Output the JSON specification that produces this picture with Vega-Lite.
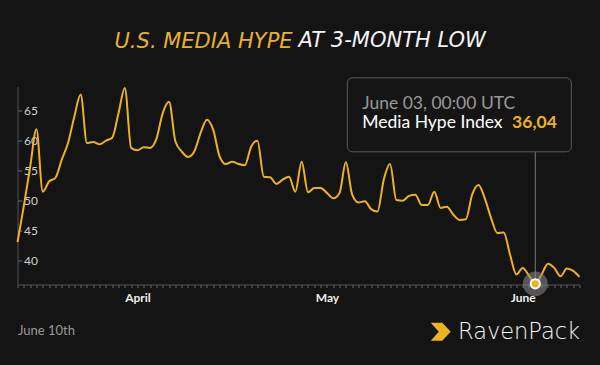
{
  "$schema": "https://vega.github.io/schema/vega-lite/v6.json",
  "autosize": "none",
  "width": 562,
  "height": 198,
  "padding": {"left": 17.5, "top": 86.5, "right": 20.5, "bottom": 80.5},
  "background": "#141414",
  "config": {"view": {"stroke": null}, "axis": {"grid": false}},
  "title": {
    "text": "U.S. MEDIA HYPE",
    "anchor": "start",
    "frame": "group",
    "dx": 97,
    "baseline": "alphabetic",
    "font": "DejaVu Sans",
    "fontSize": 21,
    "fontStyle": "italic",
    "fontWeight": "normal",
    "color": "#e9b12a",
    "offset": -40
  },
  "datasets": {
    "main": [
      {"date": "2020-03-13", "value": 43.0},
      {"date": "2020-03-14", "value": 49.0},
      {"date": "2020-03-15", "value": 55.5},
      {"date": "2020-03-16", "value": 61.8},
      {"date": "2020-03-17", "value": 51.4},
      {"date": "2020-03-18", "value": 53.1},
      {"date": "2020-03-19", "value": 53.7},
      {"date": "2020-03-20", "value": 56.7},
      {"date": "2020-03-21", "value": 59.5},
      {"date": "2020-03-22", "value": 63.9},
      {"date": "2020-03-23", "value": 67.6},
      {"date": "2020-03-24", "value": 59.5},
      {"date": "2020-03-25", "value": 59.7},
      {"date": "2020-03-26", "value": 59.3},
      {"date": "2020-03-27", "value": 59.9},
      {"date": "2020-03-28", "value": 60.4},
      {"date": "2020-03-29", "value": 64.5},
      {"date": "2020-03-30", "value": 68.7},
      {"date": "2020-03-31", "value": 58.7},
      {"date": "2020-04-01", "value": 58.3},
      {"date": "2020-04-02", "value": 58.8},
      {"date": "2020-04-03", "value": 58.7},
      {"date": "2020-04-04", "value": 60.2},
      {"date": "2020-04-05", "value": 64.5},
      {"date": "2020-04-06", "value": 66.4},
      {"date": "2020-04-07", "value": 59.8},
      {"date": "2020-04-08", "value": 58.1},
      {"date": "2020-04-09", "value": 57.2},
      {"date": "2020-04-10", "value": 58.1},
      {"date": "2020-04-11", "value": 61.2},
      {"date": "2020-04-12", "value": 63.4},
      {"date": "2020-04-13", "value": 61.7},
      {"date": "2020-04-14", "value": 57.3},
      {"date": "2020-04-15", "value": 56.0},
      {"date": "2020-04-16", "value": 56.4},
      {"date": "2020-04-17", "value": 56.0},
      {"date": "2020-04-18", "value": 55.8},
      {"date": "2020-04-19", "value": 58.9},
      {"date": "2020-04-20", "value": 59.9},
      {"date": "2020-04-21", "value": 53.9},
      {"date": "2020-04-22", "value": 53.8},
      {"date": "2020-04-23", "value": 52.7},
      {"date": "2020-04-24", "value": 53.4},
      {"date": "2020-04-25", "value": 53.9},
      {"date": "2020-04-26", "value": 51.4},
      {"date": "2020-04-27", "value": 56.4},
      {"date": "2020-04-28", "value": 51.3},
      {"date": "2020-04-29", "value": 52.0},
      {"date": "2020-04-30", "value": 52.0},
      {"date": "2020-05-01", "value": 51.2},
      {"date": "2020-05-02", "value": 50.3},
      {"date": "2020-05-03", "value": 51.2},
      {"date": "2020-05-04", "value": 56.3},
      {"date": "2020-05-05", "value": 50.9},
      {"date": "2020-05-06", "value": 49.6},
      {"date": "2020-05-07", "value": 49.8},
      {"date": "2020-05-08", "value": 48.5},
      {"date": "2020-05-09", "value": 48.1},
      {"date": "2020-05-10", "value": 53.4},
      {"date": "2020-05-11", "value": 56.0},
      {"date": "2020-05-12", "value": 50.0},
      {"date": "2020-05-13", "value": 49.9},
      {"date": "2020-05-14", "value": 50.7},
      {"date": "2020-05-15", "value": 50.9},
      {"date": "2020-05-16", "value": 49.2},
      {"date": "2020-05-17", "value": 49.2},
      {"date": "2020-05-18", "value": 51.4},
      {"date": "2020-05-19", "value": 48.7},
      {"date": "2020-05-20", "value": 48.9},
      {"date": "2020-05-21", "value": 47.6},
      {"date": "2020-05-22", "value": 46.7},
      {"date": "2020-05-23", "value": 46.8},
      {"date": "2020-05-24", "value": 50.9},
      {"date": "2020-05-25", "value": 52.5},
      {"date": "2020-05-26", "value": 50.3},
      {"date": "2020-05-27", "value": 47.0},
      {"date": "2020-05-28", "value": 44.5},
      {"date": "2020-05-29", "value": 44.6},
      {"date": "2020-05-30", "value": 40.9},
      {"date": "2020-05-31", "value": 37.6},
      {"date": "2020-06-01", "value": 38.7},
      {"date": "2020-06-02", "value": 37.4},
      {"date": "2020-06-03", "value": 36.04},
      {"date": "2020-06-04", "value": 37.6},
      {"date": "2020-06-05", "value": 39.4},
      {"date": "2020-06-06", "value": 38.7},
      {"date": "2020-06-07", "value": 37.3},
      {"date": "2020-06-08", "value": 38.6},
      {"date": "2020-06-09", "value": 38.2},
      {"date": "2020-06-10", "value": 37.2}
    ],
    "hl": [
      {"date": "2020-06-03", "value": 36.04, "when": "June 03, 00:00 UTC", "series": "Media Hype Index", "label": "36,04"}
    ]
  },
  "encoding": {
    "x": {
      "field": "date", "type": "temporal",
      "scale": {"type": "utc", "domain": ["2020-03-13", "2020-06-10"], "nice": false},
      "axis": {
        "title": "June 10th", "titleX": 0, "titleY": 50, "titleAlign": "left", "titleBaseline": "alphabetic",
        "titleColor": "#9a9a9a", "titleFont": "Lato", "titleFontSize": 13, "titleFontWeight": "normal",
        "tickCount": {"interval": "day", "step": 1},
        "labelExpr": "utcdate(datum.value) == 1 ? utcFormat(datum.value, '%B') : ''",
        "labelOverlap": false, "labelFlush": false,
        "labelColor": "#eeeeee", "labelFont": "Lato", "labelFontSize": 12, "labelFontWeight": "bold",
        "labelPadding": 5, "tickSize": 3, "tickColor": "#666666", "domainColor": "#555555"
      }
    },
    "y": {
      "field": "value", "type": "quantitative",
      "scale": {"domain": [35.93, 68.93], "nice": false, "zero": false},
      "axis": {
        "title": "AT 3-MONTH LOW", "titleAngle": 0, "titleX": 280.5, "titleY": -40.5,
        "titleAlign": "left", "titleBaseline": "alphabetic", "titleAnchor": null,
        "titleFont": "DejaVu Sans", "titleFontSize": 21, "titleFontStyle": "italic", "titleFontWeight": "normal",
        "titleColor": "#f4f4f4",
        "values": [40, 45, 50, 55, 60, 65],
        "labelOverlap": false, "labelFlush": false,
        "labelAlign": "left", "labelPadding": -2, "tickSize": -4,
        "labelColor": "#d0d0d0", "labelFont": "Lato", "labelFontSize": 12,
        "tickColor": "#777777", "domainColor": "#555555"
      }
    }
  },
  "layer": [
    {
      "data": {"name": "main"},
      "mark": {"type": "line", "interpolate": "monotone", "color": "#edb220", "strokeWidth": 2}
    },
    {
      "data": {"name": "hl"},
      "mark": {"type": "rule", "color": "#777777", "strokeWidth": 1, "y2Offset": -132},
      "encoding": {
        "y2": {"field": "value"}
      }
    },
    {
      "data": {"name": "hl"},
      "mark": {"type": "rect", "fill": "#151515", "stroke": "#5a5a5a", "strokeWidth": 1, "cornerRadius": 5,
               "xOffset": -188, "x2Offset": 36, "yOffset": -206, "y2Offset": -132},
      "encoding": {
        "x2": {"field": "date"},
        "y2": {"field": "value"}
      }
    },
    {
      "data": {"name": "hl"},
      "mark": {"type": "point", "filled": true, "size": 616, "color": "#8a8a8a", "opacity": 0.55}
    },
    {
      "data": {"name": "hl"},
      "mark": {"type": "point", "filled": true, "size": 85, "stroke": "#ffffff", "strokeWidth": 2, "opacity": 1},
      "encoding": {
        "color": {
          "datum": "RavenPack",
          "scale": {"range": ["#edb220"]},
          "legend": {
            "orient": "none", "legendX": 412, "legendY": 234, "title": null, "padding": 0,
            "symbolType": "M-1,-0.9L0.15,-0.9L1,0L0.15,0.9L-1,0.9L-0.2,0Z",
            "symbolSize": 400, "symbolStrokeWidth": 0, "symbolFillColor": "#edb220",
            "labelFont": "DejaVu Sans", "labelFontSize": 22.5, "labelFontWeight": 200, "labelColor": "#f4f4f4", "labelOffset": 6
          }
        }
      }
    },
    {
      "data": {"name": "hl"},
      "mark": {"type": "text", "align": "left", "baseline": "alphabetic", "dx": -173, "dy": -175,
               "font": "Lato", "fontSize": 17.5, "color": "#999999"},
      "encoding": {
        "text": {"field": "when"}
      }
    },
    {
      "data": {"name": "hl"},
      "mark": {"type": "text", "align": "left", "baseline": "alphabetic", "dx": -173, "dy": -156,
               "font": "Lato", "fontSize": 17.5, "color": "#ffffff"},
      "encoding": {
        "text": {"field": "series"}
      }
    },
    {
      "data": {"name": "hl"},
      "mark": {"type": "text", "align": "right", "baseline": "alphabetic", "dx": 21.5, "dy": -156,
               "font": "Lato", "fontSize": 17.5, "fontWeight": "bold", "color": "#edb220"},
      "encoding": {
        "text": {"field": "label"}
      }
    }
  ]
}
